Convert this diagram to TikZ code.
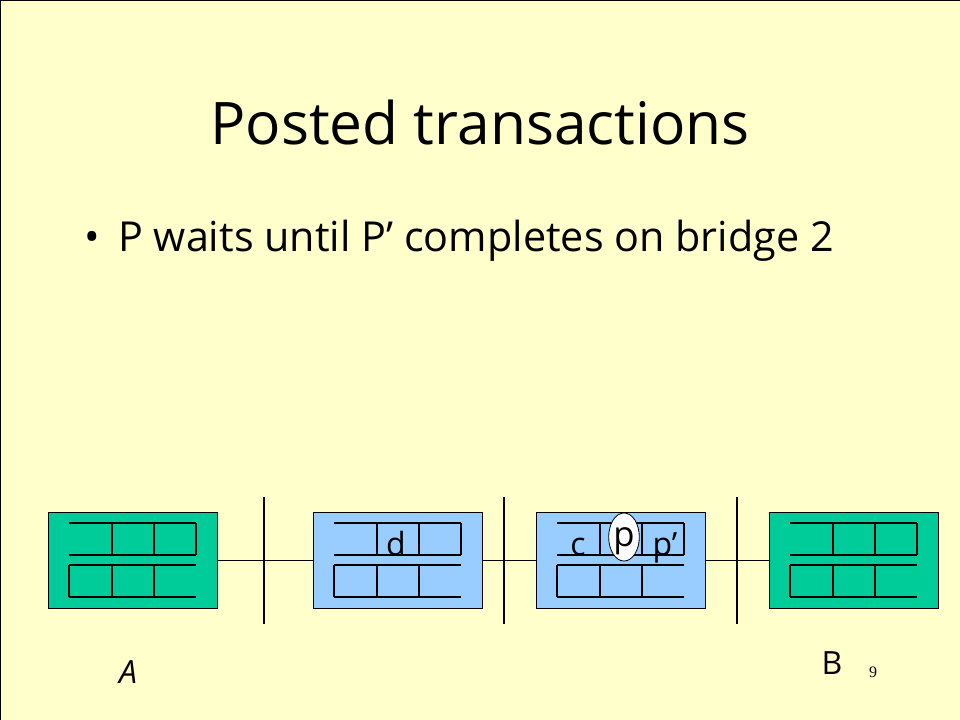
\documentclass[tikz,border=0pt]{standalone}
\usepackage{fontspec}
\usetikzlibrary{shapes.geometric}
\setmainfont{Open Sans}
\newfontfamily\numfont{Liberation Serif}
\definecolor{slidebg}{HTML}{FFFFCC}
\definecolor{endgreen}{HTML}{00CC99}
\definecolor{bridgeblue}{HTML}{99CCFF}
\begin{document}
\begin{tikzpicture}[x=0.75pt,y=-0.75pt,
  endbox/.style={draw=black,fill=endgreen,line width=0.9pt,minimum width=126.75pt,minimum height=72pt,inner sep=0pt,anchor=north west},
  bridgebox/.style={draw=black,fill=bridgeblue,line width=0.9pt,minimum width=126.75pt,minimum height=72pt,inner sep=0pt,anchor=north west},
  link/.style={draw=black,line width=0.9pt},
  bus/.style={draw=black,line width=0.9pt},
  qline/.style={draw=black,line width=0.9pt},
  celltext/.style={font=\fontsize{24}{24}\selectfont,inner sep=0pt,anchor=base},
  endlabel/.style={font=\fontsize{24}{24}\selectfont,inner sep=0pt},
  queues/.pic={
    \draw[qline] (21,11) -- (148,11) (21,43) -- (148,43)
      (64,11) -- (64,43) (106,11) -- (106,43) (148,11) -- (148,43);
    \draw[qline] (21,53) -- (148,53) (21,85) -- (148,85)
      (21,53) -- (21,85) (64,53) -- (64,85) (106,53) -- (106,85);
  }]
\fill[slidebg] (0,0) rectangle (960,720);
\useasboundingbox (0,0) rectangle (960,720);
\draw[black,line width=1.5pt] (0,720) -- (0,0.5) -- (960,0.5);

% title and bullet
\node[font=\fontsize{44}{44}\selectfont,anchor=base,inner sep=0pt] (title) at (480,145) {Posted transactions};
\node[font=\fontsize{31}{31}\selectfont,anchor=base,inner sep=0pt] (bul) at (92,252) {\textbullet};
\node[font=\fontsize{31}{31}\selectfont,anchor=base west,inner sep=0pt] (line1) at (118,252) {P waits until P’ completes on bridge 2};

% buses
\draw[bus] (264,497) -- (264,624);
\draw[bus] (504,497) -- (504,624);
\draw[bus] (737,497) -- (737,624);

% boxes
\node[endbox] (A) at (48,512) {};
\node[bridgebox] (B1) at (313,512) {};
\node[bridgebox] (B2) at (536,512) {};
\node[endbox] (B) at (769,512) {};
\pic at (48,512) {queues};
\pic at (313,512) {queues};
\pic at (536,512) {queues};
\pic at (769,512) {queues};

% connectors
\draw[link] (A.east) -- (B1.west);
\draw[link] (B1.east) -- (B2.west);
\draw[link] (B2.east) -- (B.west);

% queue contents
\node[celltext] (d) at (396,555) {d};
\node[celltext] (c) at (578,555) {c};
\node[celltext] (pp) at (665,555) {p’};
\node[draw=black,fill=white,ellipse,minimum width=23pt,minimum height=36pt,inner sep=0pt,line width=0.6pt] (pe) at (624,537) {};
\node[celltext,font=\fontsize{26}{26}\selectfont] (p) at (624,546) {p};

% end labels
\node[endlabel,font=\fontsize{24}{24}\selectfont\itshape] (la) at (128,672) {A};
\node[endlabel] (lb) at (832,663) {B};
\node[font=\numfont\fontsize{12}{12}\selectfont,inner sep=0pt] (num) at (873,672) {9};
\end{tikzpicture}
\end{document}
